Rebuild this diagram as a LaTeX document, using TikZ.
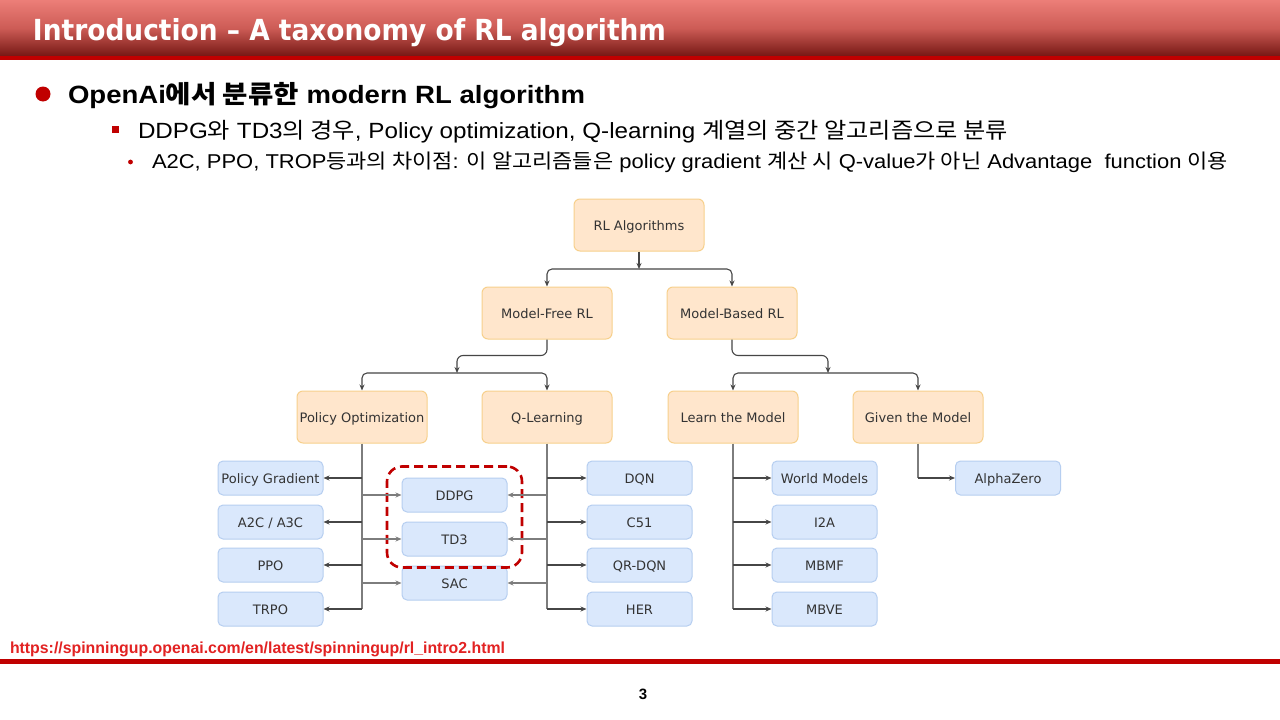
\documentclass[tikz,border=0pt]{standalone}
\usepackage{fontspec}
\usepackage{graphicx}
\setmainfont{Liberation Sans}
\newfontfamily\kr{Noto Sans CJK KR}
\newfontfamily\dvs{DejaVu Sans}
\usetikzlibrary{arrows.meta,fit}
\definecolor{hdrred}{RGB}{192,0,0}
\definecolor{urlred}{RGB}{226,34,34}
\definecolor{hdrtop}{RGB}{236,126,120}
\definecolor{hdrmid}{RGB}{205,92,86}
\definecolor{hdrbot}{RGB}{118,24,20}
\definecolor{orfill}{RGB}{255,230,204}
\definecolor{ordraw}{RGB}{247,208,140}
\definecolor{blfill}{RGB}{218,232,252}
\definecolor{bldraw}{RGB}{182,206,240}
\definecolor{txt}{RGB}{51,51,51}
\definecolor{conndark}{RGB}{70,70,70}
\definecolor{conngray}{RGB}{125,125,125}
\tikzset{
  orbox/.style={draw=ordraw, fill=orfill, line width=1pt, rounded corners=6pt,
    minimum width=130pt, minimum height=52pt, inner sep=0pt, text=txt,
    text height=10pt, text depth=0pt,
    font=\dvs\fontsize{13}{15}\selectfont},
  blbox/.style={draw=bldraw, fill=blfill, line width=1pt, rounded corners=5pt,
    minimum width=105pt, minimum height=34pt, inner sep=0pt, text=txt,
    text height=10pt, text depth=0pt,
    font=\dvs\fontsize{13}{15}\selectfont},
  arr/.style={draw=conndark, line width=1.1pt, -{Stealth[length=6pt,width=5pt]}},
  arrg/.style={draw=conngray, line width=1.1pt, -{Stealth[length=6pt,width=5pt]}},
  trunk/.style={draw=conngray, line width=1.1pt},
  grp/.style={draw=hdrred, line width=2.6pt, dash pattern=on 9pt off 5pt, rounded corners=15pt},
  txtline/.style={anchor=base west, inner sep=0pt, outer sep=0pt}
}
\begin{document}
\begin{tikzpicture}[x=1pt,y=-1pt]
\useasboundingbox (0,0) rectangle (1280,720);
\fill[white] (0,0) rectangle (1280,720);
% header
\shade[top color=hdrtop, bottom color=hdrbot, middle color=hdrmid] (0,0) rectangle (1280,56);
\fill[hdrred] (0,56) rectangle (1280,60);
\node[txtline, text=white] (title) at (33,40)
  {\resizebox{633pt}{\height}{\dvs\bfseries\fontsize{29}{33}\selectfont Introduction – A taxonomy of RL algorithm}};
% bullets
\fill[hdrred] (43,94) circle (7.5);
\node[txtline] (b1) at (68,103)
  {\resizebox{517pt}{\height}{\fontsize{25}{30}\selectfont\bfseries OpenAi{\kr\bfseries 에서 분류한} modern RL algorithm}};
\fill[hdrred] (111.5,125.5) rectangle (118.5,132.5);
\node[txtline] (b2) at (138,138)
  {\resizebox{870pt}{\height}{\fontsize{22}{26}\selectfont DDPG{\kr 와} TD3{\kr 의 경우}, Policy optimization, Q-learning {\kr 계열의 중간 알고리즘으로 분류}}};
\fill[hdrred] (130.5,162) circle (2.4);
\node[txtline] (b3) at (152,168.5)
  {\resizebox{1076pt}{\height}{\fontsize{20}{24}\selectfont A2C, PPO, TROP{\kr 등과의 차이점}: {\kr 이 알고리즘들은} policy gradient {\kr 계산 시} Q-value{\kr 가 아닌} Advantage\ \ function {\kr 이용}}};
% footer
\node[txtline, text=urlred] (url) at (10,653)
  {\resizebox{495pt}{\height}{\fontsize{16}{19}\selectfont\bfseries https://spinningup.openai.com/en/latest/spinningup/rl\_intro2.html}};
\fill[hdrred] (0,659) rectangle (1280,664);
\node[inner sep=0pt, font=\fontsize{15}{17}\selectfont\bfseries] (pg3) at (643,694) {3};
% diagram nodes
\node[orbox] (rl) at (639,225) {RL Algorithms};
\node[orbox] (mf) at (547,313) {Model-Free RL};
\node[orbox] (mb) at (732,313) {Model-Based RL};
\node[orbox] (po) at (362,417) {Policy Optimization};
\node[orbox] (ql) at (547,417) {Q-Learning};
\node[orbox] (lm) at (733,417) {Learn the Model};
\node[orbox] (gm) at (918,417) {Given the Model};
\node[blbox] (pgr) at (270.5,478) {Policy Gradient};
\node[blbox] (a2c) at (270.5,522) {A2C / A3C};
\node[blbox] (ppo) at (270.5,565) {PPO};
\node[blbox] (trpo) at (270.5,609) {TRPO};
\node[blbox] (ddpg) at (454.5,495) {DDPG};
\node[blbox] (td3) at (454.5,539) {TD3};
\node[blbox] (sac) at (454.5,583) {SAC};
\node[blbox] (dqn) at (639.5,478) {DQN};
\node[blbox] (c51) at (639.5,522) {C51};
\node[blbox] (qrdqn) at (639.5,565) {QR-DQN};
\node[blbox] (her) at (639.5,609) {HER};
\node[blbox] (wm) at (824.5,478) {World Models};
\node[blbox] (i2a) at (824.5,522) {I2A};
\node[blbox] (mbmf) at (824.5,565) {MBMF};
\node[blbox] (mbve) at (824.5,609) {MBVE};
\node[blbox] (az) at (1008,478) {AlphaZero};
\node[grp, fit=(ddpg)(td3), inner xsep=14.5pt, inner ysep=11pt] (grpbox) {};
% top-level connectors
\coordinate (j1) at (639,269);
\draw[arr] (rl.south) -- (j1);
\draw[arr, rounded corners=5pt] (j1) -| (mf.north);
\draw[arr, rounded corners=5pt] (j1) -| (mb.north);
\coordinate (j2) at (457,373);
\coordinate (j3) at (828,373);
\draw[arr, rounded corners=6pt] (mf.south) -- ++(0,16) -| (j2);
\draw[arr, rounded corners=6pt] (mb.south) -- ++(0,16) -| (j3);
\draw[arr, rounded corners=5pt] (j2) -| (po.north);
\draw[arr, rounded corners=5pt] (j2) -| (ql.north);
\draw[arr, rounded corners=5pt] (j3) -| (lm.north);
\draw[arr, rounded corners=5pt] (j3) -| (gm.north);
% policy optimization trunk
\draw[trunk] (po.south) -- (po.south |- trpo.east);
\draw[arr] (pgr.east -| po.south) -- (pgr.east);
\draw[arr] (a2c.east -| po.south) -- (a2c.east);
\draw[arr] (ppo.east -| po.south) -- (ppo.east);
\draw[arr] (trpo.east -| po.south) -- (trpo.east);
\draw[arrg] (ddpg.west -| po.south) -- (ddpg.west);
\draw[arrg] (td3.west -| po.south) -- (td3.west);
\draw[arrg] (sac.west -| po.south) -- (sac.west);
% q-learning trunk
\draw[trunk] (ql.south) -- (ql.south |- her.west);
\draw[arr] (dqn.west -| ql.south) -- (dqn.west);
\draw[arr] (c51.west -| ql.south) -- (c51.west);
\draw[arr] (qrdqn.west -| ql.south) -- (qrdqn.west);
\draw[arr] (her.west -| ql.south) -- (her.west);
\draw[arrg] (ddpg.east -| ql.south) -- (ddpg.east);
\draw[arrg] (td3.east -| ql.south) -- (td3.east);
\draw[arrg] (sac.east -| ql.south) -- (sac.east);
% learn the model trunk
\draw[trunk] (lm.south) -- (lm.south |- mbve.west);
\draw[arr] (wm.west -| lm.south) -- (wm.west);
\draw[arr] (i2a.west -| lm.south) -- (i2a.west);
\draw[arr] (mbmf.west -| lm.south) -- (mbmf.west);
\draw[arr] (mbve.west -| lm.south) -- (mbve.west);
% given the model
\draw[trunk] (gm.south) -- (gm.south |- az.west);
\draw[arr] (az.west -| gm.south) -- (az.west);
\end{tikzpicture}
\end{document}
